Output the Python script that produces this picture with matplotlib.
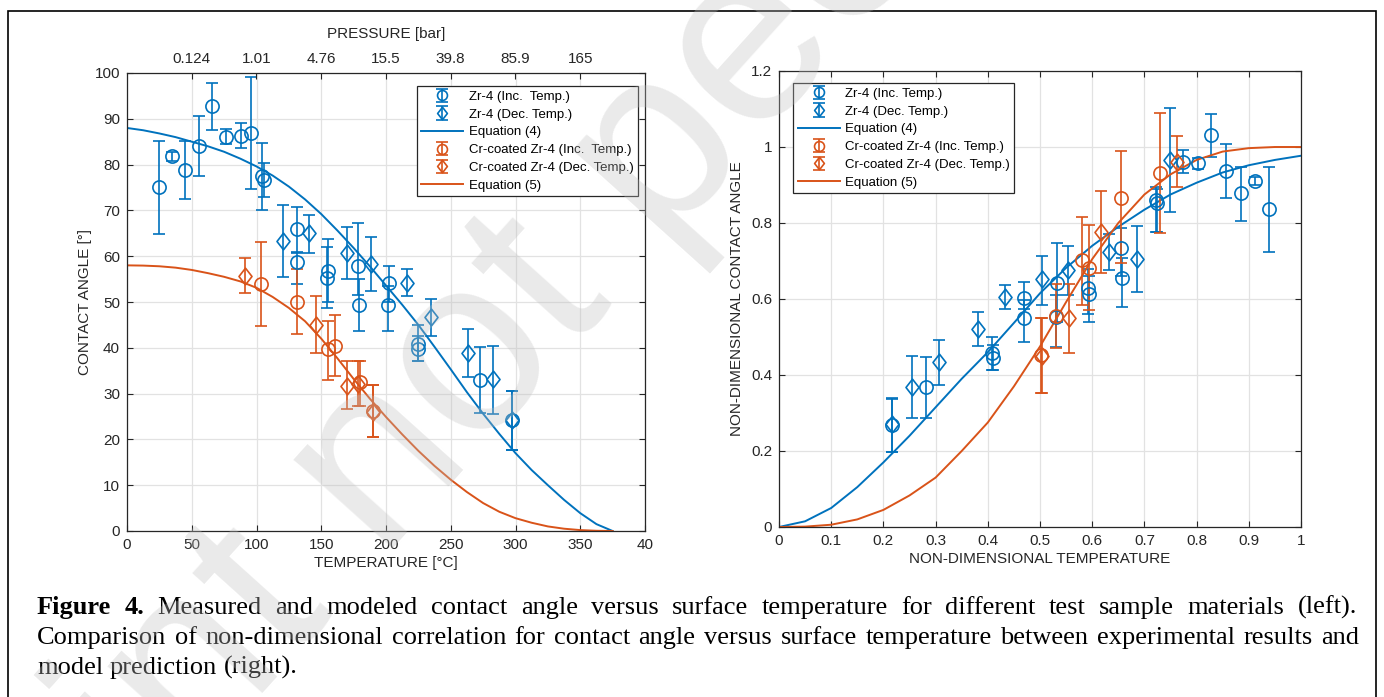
import numpy as np
import matplotlib
matplotlib.use("Agg")
import matplotlib.pyplot as plt
from matplotlib.path import Path
from matplotlib.patches import Rectangle

W, H = 1384, 697
BLUE = "#0072BD"
ORANGE = "#D95319"
INK = "#262626"

# ---- left panel: contact angle vs temperature (deg C) ----
zr_inc_T = [24.7, 34.7, 44.8, 55.6, 65.6, 76.4, 88.0, 95.8, 104.0, 105.8, 131.3, 131.0,
            155.0, 154.6, 178.1, 179.2, 202.0, 201.5, 225.0, 224.6, 272.6, 297.0]
zr_inc_A = [75.1, 81.8, 78.8, 84.1, 92.7, 86.1, 86.2, 86.8, 77.5, 76.6, 65.9, 58.7,
            56.8, 55.2, 57.8, 49.3, 54.2, 49.3, 40.8, 39.7, 33.0, 24.2]
zr_inc_lo = [64.9, 80.8, 72.4, 77.6, 87.6, 84.4, 83.7, 74.6, 70.1, 72.9, 60.6, 54.0,
             50.0, 48.6, 51.5, 43.7, 50.0, 43.7, 37.2, 37.2, 25.7, 17.7]
zr_inc_hi = [85.2, 82.8, 85.2, 90.6, 97.8, 87.8, 89.1, 99.2, 84.8, 80.4, 70.8, 61.0,
             63.8, 62.0, 67.2, 55.0, 57.9, 53.5, 45.0, 42.5, 40.2, 30.6]

zr_dec_T = [120.2, 140.3, 169.6, 188.4, 216.0, 235.0, 263.7, 282.9, 297.0]
zr_dec_A = [63.3, 65.0, 60.8, 58.3, 54.2, 46.7, 38.9, 33.1, 24.3]
zr_dec_lo = [55.5, 60.8, 55.0, 52.5, 51.3, 42.6, 33.7, 25.5, 17.7]
zr_dec_hi = [71.2, 69.1, 66.4, 64.3, 57.1, 50.7, 44.1, 40.5, 30.6]

cr_inc_T = [103.7, 131.3, 155.5, 160.6, 180.0, 189.7]
cr_inc_A = [53.9, 49.9, 39.7, 40.4, 32.5, 26.2]
cr_inc_lo = [44.8, 43.0, 33.0, 33.8, 27.3, 20.5]
cr_inc_hi = [63.0, 57.2, 45.9, 47.2, 37.1, 31.9]

cr_dec_T = [91.4, 146.0, 169.6, 178.6, 189.7]
cr_dec_A = [55.7, 45.0, 31.7, 32.2, 26.0]
cr_dec_lo = [51.9, 38.8, 26.6, 27.3, 20.5]
cr_dec_hi = [59.5, 51.3, 37.1, 37.1, 31.9]

# model curves (every 12.5 deg C)
eq_T = [0, 12.5, 25, 37.5, 50, 62.5, 75, 87.5, 100, 112.5, 125, 137.5, 150, 162.5, 175,
        187.5, 200, 212.5, 225, 237.5, 250, 262.5, 275, 287.5, 300, 312.5, 325, 337.5,
        350, 362.5, 375]
eq4_A = [88.0, 87.5, 86.8, 86.0, 85.0, 84.0, 82.8, 81.3, 79.6, 77.6, 75.2, 72.4, 69.2,
         65.6, 61.8, 57.8, 53.6, 49.4, 45.0, 40.2, 35.3, 30.3, 25.6, 21.2, 17.0, 13.3,
         10.0, 6.8, 3.9, 1.5, 0.0]
eq5_A = [58.0, 57.95, 57.8, 57.5, 57.0, 56.3, 55.5, 54.5, 53.1, 51.1, 48.7, 45.8, 42.0,
         37.7, 33.2, 28.9, 24.9, 21.1, 17.5, 14.2, 11.2, 8.5, 6.1, 4.2, 2.8, 1.8, 1.0,
         0.5, 0.2, 0.05, 0.0]

temp_ticks = [0, 50, 100, 150, 200, 250, 300, 350, 400]
temp_labels = ["0", "50", "100", "150", "200", "250", "300", "350", "40"]
press_ticks = [50, 100, 150, 200, 250, 300, 350]
press_labels = ["0.124", "1.01", "4.76", "15.5", "39.8", "85.9", "165"]

# ---- right panel: non-dimensional ----
nzr_inc_x = [.217, .281, .409, .410, .469, .469, .532, .531, .591, .593, .656, .658,
             .722, .724, .773, .802, .828, .856, .885, .911, .939]
nzr_inc_y = [.268, .368, .457, .444, .603, .549, .643, .553, .630, .612, .733, .654,
             .860, .853, .961, .957, 1.032, .937, .878, .911, .836]
nzr_inc_lo = [.198, .288, .413, .413, .575, .488, .540, .473, .560, .540, .660, .578,
              .777, .777, .931, .943, .974, .865, .805, .900, .724]
nzr_inc_hi = [.338, .448, .499, .480, .645, .597, .747, .611, .680, .660, .786, .707,
              .896, .890, .992, .971, 1.087, 1.008, .948, .922, .947]

nzr_dec_x = [.217, .254, .306, .381, .432, .504, .554, .632, .685, .749]
nzr_dec_y = [.271, .368, .433, .521, .604, .652, .676, .725, .705, .966]
nzr_dec_lo = [.198, .288, .374, .476, .574, .584, .611, .676, .619, .830]
nzr_dec_hi = [.340, .450, .492, .567, .637, .713, .739, .770, .793, 1.103]

ncr_inc_x = [.502, .530, .580, .593, .656, .729]
ncr_inc_y = [.453, .556, .703, .681, .867, .931]
ncr_inc_lo = [.353, .470, .584, .571, .694, .775]
ncr_inc_hi = [.551, .640, .817, .795, .990, 1.089]

ncr_dec_x = [.503, .556, .617, .762]
ncr_dec_y = [.451, .549, .776, .961]
ncr_dec_lo = [.353, .459, .668, .896]
ncr_dec_hi = [.551, .639, .884, 1.029]

nd_x = [0, .05, .1, .15, .2, .25, .3, .35, .4, .45, .5, .55, .6, .65, .7, .75, .8, .85,
        .9, .95, 1.0]
neq4_y = [0, .015, .05, .105, .17, .24, .315, .39, .46, .537, .615, .682, .74, .79,
          .835, .875, .906, .933, .952, .966, .977]
neq5_y = [0, .001, .006, .02, .045, .083, .13, .2, .275, .37, .475, .592, .705, .8,
          .875, .928, .966, .988, .997, 1.0, 1.0]

plt.rcParams["font.family"] = ["Liberation Sans", "DejaVu Sans"]

DIAMOND = Path([(0, 1), (0.78, 0), (0, -1), (-0.78, 0), (0, 1)],
               [Path.MOVETO, Path.LINETO, Path.LINETO, Path.LINETO, Path.CLOSEPOLY])


def eb(ax, x, y, lo, hi, color, marker, ms, label):
    y = np.asarray(y)
    yerr = [y - np.asarray(lo), np.asarray(hi) - y]
    return ax.errorbar(x, y, yerr=yerr, marker=marker, ls="none", ms=ms, mfc="none",
                       mec=color, mew=1.2, ecolor=color, elinewidth=1.2, capsize=4.3,
                       capthick=1.2, label=label)


def style(ax):
    ax.grid(True, color="#e2e2e2", lw=0.9)
    ax.set_axisbelow(True)
    for s in ax.spines.values():
        s.set_color(INK)
        s.set_linewidth(0.9)
    ax.tick_params(direction="in", length=4, width=0.8, colors=INK, labelsize=11,
                   labelcolor=INK, pad=5)


def add_legend(ax, handles, anchor, loc):
    leg = ax.legend(handles=handles, loc=loc, bbox_to_anchor=anchor,
                    bbox_transform=fig.transFigure, fontsize=9.5, frameon=True,
                    fancybox=False, framealpha=1, edgecolor=INK, borderpad=0.35,
                    labelspacing=0.42, handlelength=3.2, handletextpad=0.4,
                    borderaxespad=0, markerscale=0.75)
    leg.get_frame().set_linewidth(0.9)
    leg.set_zorder(20)
    return leg


fig = plt.figure(figsize=(W / 100, H / 100), dpi=100)

# left panel
axL = fig.add_axes([127 / W, 1 - 531 / H, 518 / W, 458 / H])
style(axL)
hL = [
    eb(axL, zr_inc_T, zr_inc_A, zr_inc_lo, zr_inc_hi, BLUE, "o", 9.5, "Zr-4 (Inc.  Temp.)"),
    eb(axL, zr_dec_T, zr_dec_A, zr_dec_lo, zr_dec_hi, BLUE, DIAMOND, 12, "Zr-4 (Dec. Temp.)"),
    axL.plot(eq_T, eq4_A, color=BLUE, lw=1.4, label="Equation (4)")[0],
    eb(axL, cr_inc_T, cr_inc_A, cr_inc_lo, cr_inc_hi, ORANGE, "o", 9.5,
       "Cr-coated Zr-4 (Inc.  Temp.)"),
    eb(axL, cr_dec_T, cr_dec_A, cr_dec_lo, cr_dec_hi, ORANGE, DIAMOND, 12,
       "Cr-coated Zr-4 (Dec. Temp.)"),
    axL.plot(eq_T, eq5_A, color=ORANGE, lw=1.4, label="Equation (5)")[0],
]
axL.set_xlim(0, 400)
axL.set_ylim(0, 100)
axL.set_xticks(temp_ticks)
axL.set_xticklabels(temp_labels)
axL.set_yticks(np.arange(0, 101, 10))
axL.tick_params(axis="y", right=True)
axL.set_xlabel("TEMPERATURE [°C]", fontsize=11, color=INK, labelpad=3)
axL.set_ylabel("CONTACT ANGLE [°]", fontsize=11, color=INK, labelpad=2)

top = axL.twiny()
top.set_xlim(0, 400)
top.set_xticks(press_ticks)
top.set_xticklabels(press_labels)
top.tick_params(direction="in", length=4, width=0.8, colors=INK, labelsize=11, pad=5)
for s in top.spines.values():
    s.set_visible(False)
top.set_xlabel("PRESSURE [bar]", fontsize=11, color=INK, labelpad=10)

add_legend(axL, hL, (638 / W, 1 - 86 / H), "upper right")

# right panel
axR = fig.add_axes([779 / W, 1 - 527 / H, 522 / W, 456 / H])
style(axR)
hR = [
    eb(axR, nzr_inc_x, nzr_inc_y, nzr_inc_lo, nzr_inc_hi, BLUE, "o", 9.5, "Zr-4 (Inc. Temp.)"),
    eb(axR, nzr_dec_x, nzr_dec_y, nzr_dec_lo, nzr_dec_hi, BLUE, DIAMOND, 12,
       "Zr-4 (Dec. Temp.)"),
    axR.plot(nd_x, neq4_y, color=BLUE, lw=1.4, label="Equation (4)")[0],
    eb(axR, ncr_inc_x, ncr_inc_y, ncr_inc_lo, ncr_inc_hi, ORANGE, "o", 9.5,
       "Cr-coated Zr-4 (Inc. Temp.)"),
    eb(axR, ncr_dec_x, ncr_dec_y, ncr_dec_lo, ncr_dec_hi, ORANGE, DIAMOND, 12,
       "Cr-coated Zr-4 (Dec. Temp.)"),
    axR.plot(nd_x, neq5_y, color=ORANGE, lw=1.4, label="Equation (5)")[0],
]
axR.set_xlim(0, 1)
axR.set_ylim(0, 1.2)
xt = np.round(np.arange(0, 1.01, 0.1), 1)
axR.set_xticks(xt)
axR.set_xticklabels(["0" if v == 0 else ("1" if v == 1 else f"{v:g}") for v in xt])
yt = np.round(np.arange(0, 1.21, 0.2), 1)
axR.set_yticks(yt)
axR.set_yticklabels(["0" if v == 0 else ("1" if v == 1 else f"{v:g}") for v in yt])
axR.tick_params(top=True, right=True)
axR.set_xlabel("NON-DIMENSIONAL TEMPERATURE", fontsize=11, color=INK, labelpad=3)
axR.set_ylabel("NON-DIMENSIONAL CONTACT ANGLE", fontsize=11, color=INK, labelpad=5)

add_legend(axR, hR, (793 / W, 1 - 83 / H), "upper left")

# frame around the figure
fig.patches.append(Rectangle((8 / W, -0.05), (1376 - 8) / W, 1.05 - 11 / H,
                             transform=fig.transFigure, fill=False, ec="black", lw=1.2))

# caption, justified like the paper
renderer = fig.canvas.get_renderer()
SERIF = ["Liberation Serif", "DejaVu Serif"]
CAP_SIZE = 19


def caption_line(words, ybase, x0, x1, n_bold=0, justify=True):
    arts = []
    widths = []
    for i, w in enumerate(words):
        t = fig.text(0, 1 - ybase / H, w, fontsize=CAP_SIZE, family=SERIF,
                     weight="bold" if i < n_bold else "normal", va="baseline")
        widths.append(t.get_window_extent(renderer).width)
        arts.append(t)
    if justify:
        gap = max((x1 - x0 - sum(widths)) / (len(words) - 1), 3)
    else:
        gap = CAP_SIZE * 0.25 * 100 / 72
    x = x0
    for t, wd in zip(arts, widths):
        t.set_x(x / W)
        x += wd + gap


line1 = "Figure 4. Measured and modeled contact angle versus surface temperature for different test sample materials (left).".split()
line2 = "Comparison of non-dimensional correlation for contact angle versus surface temperature between experimental results and".split()
line3 = "model prediction (right).".split()
caption_line(line1, 614, 37, 1357, n_bold=2)
caption_line(line2, 644, 37, 1359)
caption_line(line3, 674, 37, 1359, justify=False)

# faint diagonal preprint watermark; the "n" of "not" sits over the left panel
ang_deg = 48
ang = np.deg2rad(ang_deg)
em = 250.0
d = np.array([np.cos(ang), -np.sin(ang)])      # along the text, pixel coords (y down)
u = np.array([-np.sin(ang), -np.cos(ang)])     # "up" for the rotated text
n_center = np.array([380.0, 466.0])
start = n_center - 0.26 * em * u - 4.056 * em * d
fig.text(start[0] / W, 1 - start[1] / H, "Preprint not peer reviewed",
         fontsize=em * 72 / 100, rotation=ang_deg, rotation_mode="anchor", ha="left",
         va="baseline", color="#bfbfbf", alpha=0.33,
         family=["Liberation Sans", "DejaVu Sans"], zorder=30)

fig.savefig("out.png", dpi=100)
